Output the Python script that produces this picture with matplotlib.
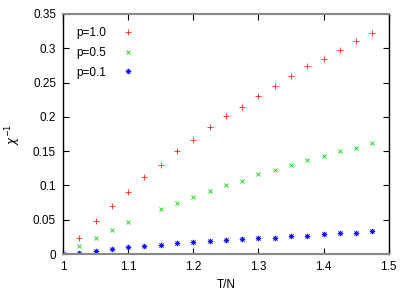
import matplotlib
matplotlib.use("Agg")
import matplotlib.pyplot as plt

plt.rcParams["font.family"] = ["Liberation Sans", "DejaVu Sans"]

# T/N values
t_red = [1.0, 1.025, 1.05, 1.075, 1.1, 1.125, 1.15, 1.175, 1.2, 1.225,
         1.25, 1.275, 1.3, 1.325, 1.35, 1.375, 1.4, 1.425, 1.45, 1.475]
chi_red = [0.0, 0.024, 0.048, 0.070, 0.091, 0.112, 0.130, 0.150, 0.166, 0.185,
           0.201, 0.215, 0.231, 0.245, 0.260, 0.274, 0.285, 0.298, 0.310, 0.323]

t_green = [1.0, 1.025, 1.05, 1.075, 1.1, 1.15, 1.175, 1.2, 1.225,
           1.25, 1.275, 1.3, 1.325, 1.35, 1.375, 1.4, 1.425, 1.45, 1.475]
chi_green = [0.0, 0.012, 0.024, 0.035, 0.046, 0.065, 0.075, 0.083, 0.092,
             0.100, 0.107, 0.116, 0.122, 0.130, 0.137, 0.143, 0.150, 0.155, 0.162]

t_blue = t_red
chi_blue = [0.0, 0.002, 0.005, 0.007, 0.010, 0.011, 0.0135, 0.0155, 0.017, 0.019,
            0.020, 0.022, 0.023, 0.024, 0.0265, 0.0265, 0.0285, 0.030, 0.031, 0.033]

xticks = [1, 1.1, 1.2, 1.3, 1.4, 1.5]
xticklabels = ["1", "1.1", "1.2", "1.3", "1.4", "1.5"]
yticks = [0, 0.05, 0.1, 0.15, 0.2, 0.25, 0.3, 0.35]
yticklabels = ["0", "0.05", "0.1", "0.15", "0.2", "0.25", "0.3", "0.35"]

fig = plt.figure(figsize=(4.15, 2.91), dpi=100)
ax = fig.add_axes([0.1518, 0.1271, 0.785, 0.8248])

ax.plot(t_red, chi_red, ls="none", marker="+", ms=3.8, mew=0.6, color="#ff2020", label="p=1.0")
ax.plot(t_green, chi_green, ls="none", marker="x", ms=3.0, mew=0.6, color="#00d800", label="p=0.5")
ax.plot(t_blue, chi_blue, ls="none", marker=(8, 2, 0), ms=3.8, mew=0.6, color="#1010ff", label="p=0.1")

ax.set_xlim(1, 1.5)
ax.set_ylim(0, 0.35)
ax.set_xticks(xticks)
ax.set_xticklabels(xticklabels)
ax.set_yticks(yticks)
ax.set_yticklabels(yticklabels)
ax.tick_params(direction="in", top=True, right=True, length=4, width=0.8,
               labelsize=8.5, pad=5)

for side in ["left", "right"]:
    ax.spines[side].set_color("black")
    ax.spines[side].set_linewidth(1.0)
for side in ["top", "bottom"]:
    ax.spines[side].set_color("#888888")
    ax.spines[side].set_linewidth(1.5)

ax.set_xlabel("T/N", fontsize=8.5, labelpad=4)
ax.set_ylabel(r"$\chi^{-1}$", fontsize=8.5, labelpad=7)

leg = ax.legend(loc="upper left", frameon=False, fontsize=8.5, markerfirst=False,
                handlelength=1.5, handletextpad=1.1, labelspacing=0.65,
                borderpad=0, borderaxespad=0, bbox_to_anchor=(0.040, 0.945))

fig.savefig("out.png", dpi=100)
plt.close(fig)
